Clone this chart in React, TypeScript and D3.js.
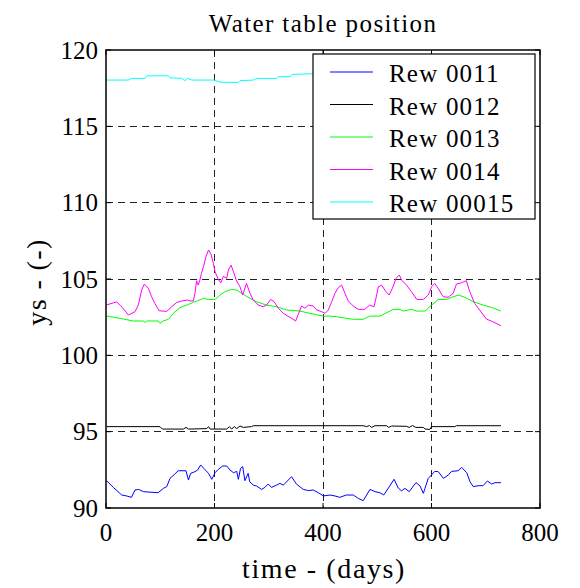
import React from "react";
import * as d3 from "d3";

const xTicks = [0, 200, 400, 600, 800];
const yTicks = [90, 95, 100, 105, 110, 115, 120];
const xGrid = [200, 400, 600];
const yGrid = [95, 100, 105, 110, 115];

const seriesNames = ["Rew 0011", "Rew 0012", "Rew 0013", "Rew 0014", "Rew 00015"];
const seriesColors = ["#0000ff", "#000000", "#00ff00", "#ff00ff", "#00ffff"];

const blueDays = [1, 13.5, 29, 38, 47, 53.5, 60, 69, 96, 106, 112, 118, 127, 133, 147.5, 152, 156, 164, 169, 174.5, 182, 189, 195, 201, 207, 215, 222.5, 228.5, 235, 241, 244, 248, 252, 256, 262, 265, 271.5, 277.5, 287, 293, 299, 305, 314.5, 320.5, 327, 342, 351, 363.5, 373, 382, 391.5, 400.7, 413, 422, 431, 443, 456, 465, 474, 480.5, 486.6, 496, 505, 512, 523, 531, 539, 545, 551, 559, 566.5, 571.5, 579, 585, 588, 594, 600, 606, 612.5, 622, 631, 637, 649, 655.5, 665, 671, 677, 686, 695, 703, 711, 717, 728];
const blueVals = [91.79, 91.35, 90.85, 90.79, 90.7, 91.18, 91.22, 91.07, 91.0, 91.29, 91.4, 91.94, 92.23, 92.44, 92.44, 91.83, 92.27, 92.38, 92.49, 92.82, 92.53, 92.27, 91.88, 92.31, 92.53, 92.75, 92.75, 92.49, 92.31, 92.4, 91.88, 92.6, 92.71, 91.79, 92.27, 91.72, 91.5, 91.44, 91.22, 91.35, 91.57, 91.35, 91.5, 91.61, 91.5, 92.05, 91.57, 91.22, 91.14, 91.18, 91.0, 90.79, 90.85, 90.79, 90.7, 90.85, 90.85, 90.63, 90.48, 90.85, 91.22, 91.07, 91.0, 90.85, 91.44, 91.88, 91.29, 91.12, 91.29, 91.07, 91.44, 91.66, 91.44, 90.96, 91.29, 91.94, 92.16, 92.4, 92.38, 91.94, 92.16, 92.4, 92.44, 92.66, 92.31, 91.72, 91.4, 91.46, 91.46, 91.77, 91.57, 91.66, 91.66];

const blackDays = [1, 99.5, 104, 142.6, 147.5, 152, 185.6, 189, 192, 222.5, 227.4, 231.6, 236.5, 241, 247, 253, 268.4, 271.5, 474.4, 480.5, 485.4, 489.7, 495.8, 517, 521, 526.6, 554, 559, 565, 571, 585, 588, 597, 600.2, 643, 646, 728];
const blackVals = [95.33, 95.33, 95.17, 95.17, 95.28, 95.17, 95.2, 95.33, 95.17, 95.17, 95.33, 95.17, 95.33, 95.2, 95.37, 95.28, 95.33, 95.39, 95.39, 95.33, 95.4, 95.28, 95.39, 95.39, 95.28, 95.37, 95.35, 95.28, 95.4, 95.28, 95.28, 95.17, 95.15, 95.33, 95.33, 95.39, 95.39];

const greenDays = [1, 26, 50, 69, 72, 75, 96, 99.5, 105.6, 115, 124, 136, 149, 161, 172, 179.5, 189, 201, 210, 219.5, 231.5, 241, 250, 262, 277.5, 296, 314.5, 333, 357.5, 376, 400.7, 413, 425, 437, 456, 474, 486.4, 505, 529.5, 541.8, 548, 563, 573, 588, 600.2, 612.6, 628, 637, 649.4, 661.7, 677, 695.4, 710.8, 728];
const greenVals = [102.57, 102.42, 102.25, 102.25, 102.14, 102.25, 102.25, 102.09, 102.25, 102.36, 102.75, 103.12, 103.29, 103.47, 103.62, 103.73, 103.66, 103.66, 103.95, 104.17, 104.32, 104.28, 104.06, 103.8, 103.51, 103.29, 103.18, 102.97, 102.9, 102.75, 102.57, 102.57, 102.53, 102.46, 102.36, 102.36, 102.57, 102.57, 103.01, 103.01, 102.9, 103.01, 102.9, 102.9, 103.29, 103.66, 103.66, 103.8, 103.95, 103.8, 103.51, 103.29, 103.14, 102.9];

const magentaDays = [1, 19.7, 31, 41.2, 53.5, 59.6, 65.8, 70.7, 78, 84, 90, 98, 112, 121, 130, 139.5, 150, 155, 161, 164, 167, 170, 173, 176, 179.6, 184.3, 189, 193.5, 198, 201, 207, 211.5, 216.4, 222.5, 225.6, 230.5, 235, 240, 247, 252, 255, 259, 265.4, 271.5, 280.7, 290, 296, 303.5, 309.6, 317.6, 326.8, 339, 349.6, 354.5, 360.6, 366.7, 373, 382, 388.4, 397.5, 403.7, 409.8, 416, 422, 428, 434.4, 440.5, 446.6, 455.8, 465, 477, 486, 494, 497.6, 502, 508, 516, 522, 528, 534.6, 540.7, 545, 554, 563, 573, 585, 594, 600.2, 606, 612, 621.4, 630.6, 640, 646, 655, 664.3, 670.4, 679.6, 688.8, 701, 713, 728];
const magentaVals = [103.3, 103.5, 103.1, 102.64, 102.86, 103.3, 104.28, 104.67, 104.4, 103.84, 103.4, 102.92, 102.88, 103.18, 103.45, 103.56, 103.62, 103.56, 103.56, 104.06, 104.89, 104.6, 104.93, 105.37, 105.8, 106.46, 106.9, 106.63, 106.02, 105.47, 104.98, 104.75, 105.19, 105.04, 105.59, 105.91, 105.47, 104.93, 104.49, 103.95, 104.28, 104.71, 104.06, 103.62, 103.29, 103.18, 103.29, 103.66, 103.53, 103.08, 102.75, 102.49, 102.25, 102.7, 103.23, 103.08, 103.29, 103.23, 102.97, 102.86, 102.75, 102.97, 103.51, 104.06, 104.43, 104.6, 104.06, 103.56, 103.23, 103.01, 103.01, 103.29, 103.18, 103.73, 104.49, 104.6, 104.17, 103.95, 104.4, 105.04, 105.26, 104.93, 104.6, 104.17, 103.66, 103.66, 103.95, 104.49, 104.71, 104.4, 103.84, 103.8, 104.06, 104.67, 104.75, 104.89, 104.17, 103.4, 102.97, 102.38, 102.2, 101.94];

const cyanDays = [1, 41, 47.4, 72, 75, 115, 118, 139.5, 146, 150, 158, 198, 213.4, 244, 247, 271.5, 277.6, 314.5, 317.6, 339, 344, 382, 420, 480, 540, 600, 660, 728];
const cyanVals = [118.03, 118.03, 118.14, 118.14, 118.31, 118.31, 118.18, 118.14, 117.99, 118.14, 118.03, 118.03, 117.88, 117.88, 117.99, 118.03, 118.14, 118.14, 118.25, 118.25, 118.4, 118.45, 118.45, 118.5, 118.5, 118.45, 118.5, 118.5];

const seriesDays = [blueDays, blackDays, greenDays, magentaDays, cyanDays];
const seriesVals = [blueVals, blackVals, greenVals, magentaVals, cyanVals];

const W = 580;
const H = 588;
const L = 106;
const R = 540;
const T = 50;
const B = 508;
const FONT = "'Liberation Serif', 'Times New Roman', serif";

export default function App() {
  const x = d3.scaleLinear().domain([0, 800]).range([L, R]);
  const y = d3.scaleLinear().domain([90, 120]).range([B, T]);
  const line = d3
    .line<[number, number]>()
    .x((d) => x(d[0]))
    .y((d) => y(d[1]));

  const tickLen = 5;
  const legX0 = 313;
  const legY0 = 54;
  const legX1 = 535;
  const legY1 = 219;
  const legRowY = (i: number) => 72 + i * 32.5;

  return (
    <svg
      width={W}
      height={H}
      style={{ position: "absolute", left: 0, top: 0, background: "#fff" }}
      fontFamily={FONT}
    >
      <rect x={0} y={0} width={W} height={H} fill="#fff" />
      {xGrid.map((g) => (
        <line
          key={"gx" + g}
          x1={x(g)}
          x2={x(g)}
          y1={T}
          y2={B}
          stroke="#222"
          strokeWidth={1}
          strokeDasharray="7,5"
          shapeRendering="crispEdges"
        />
      ))}
      {yGrid.map((g) => (
        <line
          key={"gy" + g}
          x1={L}
          x2={R}
          y1={y(g)}
          y2={y(g)}
          stroke="#222"
          strokeWidth={1}
          strokeDasharray="7,5"
          shapeRendering="crispEdges"
        />
      ))}
      {seriesDays.map((days, i) => (
        <path
          key={"s" + i}
          d={line(days.map((d, j) => [d, seriesVals[i][j]] as [number, number])) || ""}
          fill="none"
          stroke={seriesColors[i]}
          strokeWidth={1}
        />
      ))}
      <rect x={L} y={T} width={R - L} height={B - T} fill="none" stroke="#000" strokeWidth={1.5} />
      {xTicks.map((t) => (
        <g key={"xt" + t}>
          <line x1={x(t)} x2={x(t)} y1={B} y2={B - tickLen} stroke="#000" />
          <line x1={x(t)} x2={x(t)} y1={T} y2={T + tickLen} stroke="#000" />
          <text x={x(t)} y={541} textAnchor="middle" fontSize={25} fill="#000">
            {t}
          </text>
        </g>
      ))}
      {yTicks.map((t) => (
        <g key={"yt" + t}>
          <line x1={L} x2={L + tickLen} y1={y(t)} y2={y(t)} stroke="#000" />
          <line x1={R} x2={R - tickLen} y1={y(t)} y2={y(t)} stroke="#000" />
          <text x={98} y={y(t) + 8.5} textAnchor="end" fontSize={25} fill="#000">
            {t}
          </text>
        </g>
      ))}
      <rect
        x={legX0}
        y={legY0}
        width={legX1 - legX0}
        height={legY1 - legY0}
        fill="#fff"
        stroke="#000"
        strokeWidth={1.2}
      />
      {seriesNames.map((n, i) => (
        <g key={"lg" + i}>
          <line x1={330} x2={373} y1={legRowY(i)} y2={legRowY(i)} stroke={seriesColors[i]} strokeWidth={1} />
          <text x={389} y={legRowY(i) + 10} fontSize={25} letterSpacing={1.2} fill="#000">
            {n}
          </text>
        </g>
      ))}
      <text x={(L + R) / 2} y={32} textAnchor="middle" fontSize={25} letterSpacing={1.4} fill="#000">
        Water table position
      </text>
      <text x={(L + R) / 2 + 1} y={578} textAnchor="middle" fontSize={28} letterSpacing={1.6} fill="#000">
        time - (days)
      </text>
      <text
        transform={`translate(46, ${(T + B) / 2 + 3}) rotate(-90)`}
        textAnchor="middle"
        fontSize={28}
        letterSpacing={1.4}
        fill="#000"
      >
        ys - (-)
      </text>
    </svg>
  );
}
